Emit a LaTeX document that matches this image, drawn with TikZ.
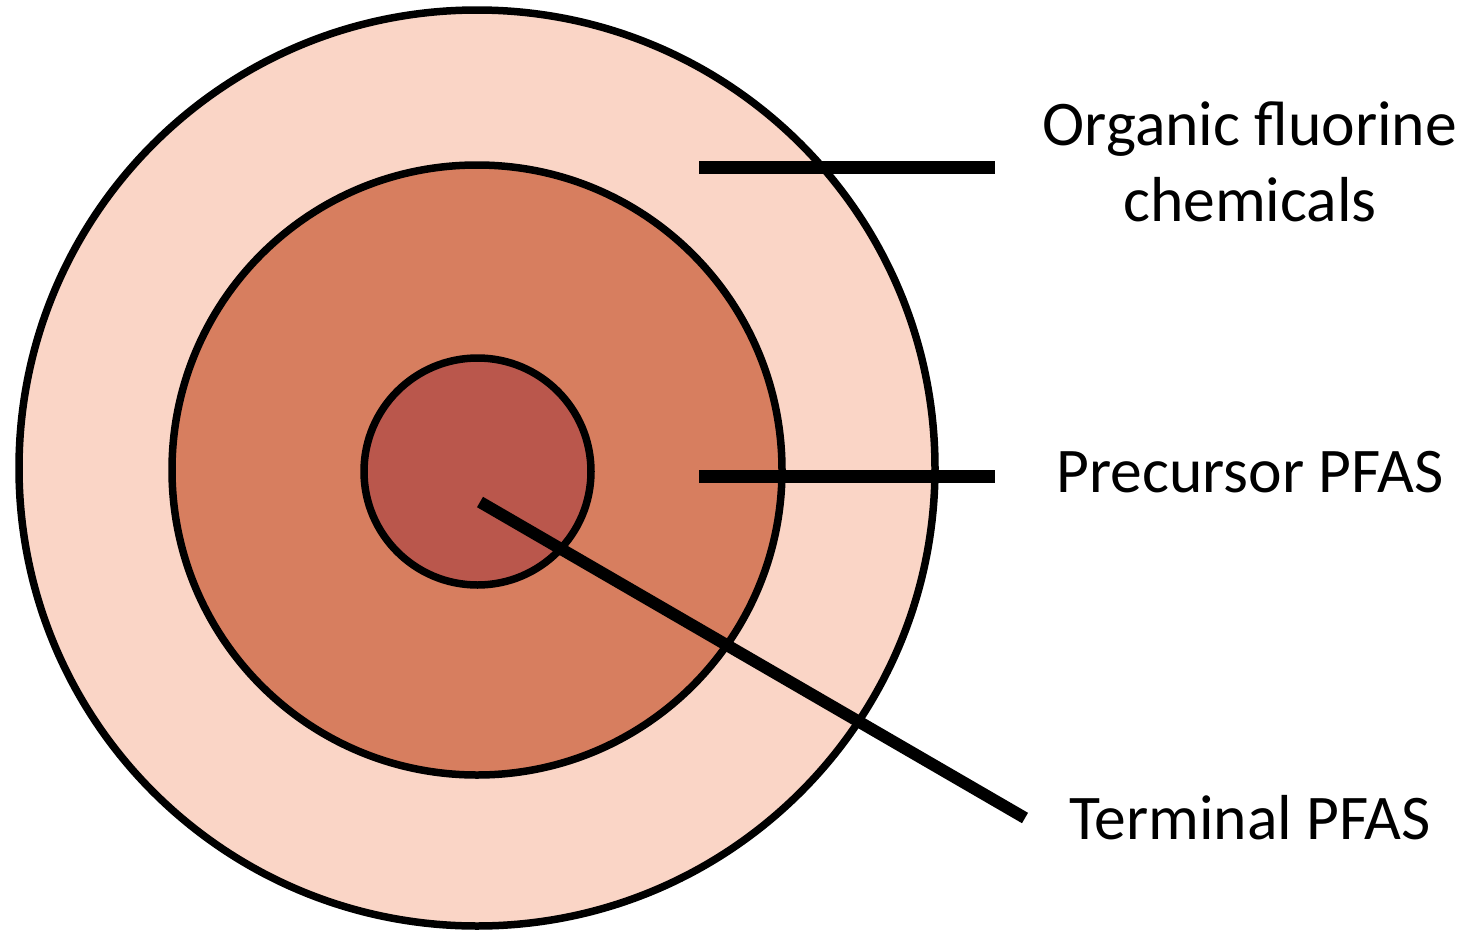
\documentclass[tikz,border=0pt]{standalone}
\usepackage{fontspec}
\setmainfont{Carlito}
\usepackage{tikz}
\usetikzlibrary{positioning}
\definecolor{RingOuter}{RGB}{250, 213, 198}
\definecolor{RingMiddle}{RGB}{215, 126, 95}
\definecolor{RingInner}{RGB}{186, 87, 76}

\begin{document}
\begin{tikzpicture}[
      x=1pt, y=-1pt,
      every node/.style={font=\fontsize{63.6}{76}\selectfont, align=center},
      ring/.style={circle, draw=black, line width=7.5pt, inner sep=0pt, outer sep=0pt},
      leader/.style={line width=13pt, color=black},
      label/.style={text=black, inner sep=0pt}
    ]
      \useasboundingbox (0,0) rectangle (1465,932);

      % Rings
      \node[ring, fill=RingOuter, minimum size=916pt] (outer) at (477, 468) {};
      \node[ring, fill=RingMiddle, minimum size=610pt] (middle) at (477, 470) {};
      \node[ring, fill=RingInner, minimum size=227pt] (inner) at (477.5, 471.5) {};

      % Labels
      \node[label] (organic) at (1250, 162) {Organic fluorine\\chemicals};
      \node[label] (precursor) at (1250, 472) {Precursor PFAS};
      \node[label] (terminal) at (1250, 818) {Terminal PFAS};

      % Leader ends
      \coordinate (orgA) at (699, 167);
      \coordinate (orgB) at (995, 167);
      \coordinate (preA) at (699, 476);
      \coordinate (preB) at (995, 476);
      \coordinate (terA) at (480, 502);
      \coordinate (terB) at (1025, 818);

      % Leaders
      \draw[leader] (orgA) -- (orgB);
      \draw[leader] (preA) -- (preB);
      \draw[leader, line width=12pt] (terA) -- (terB);
    \end{tikzpicture}
\end{document}
